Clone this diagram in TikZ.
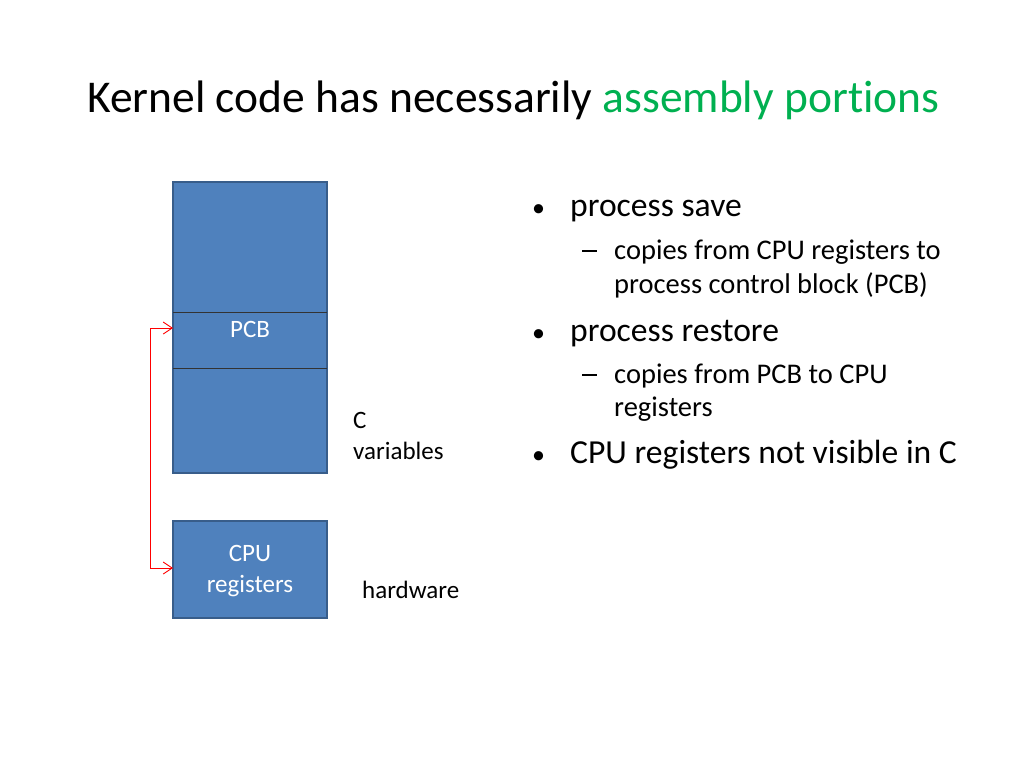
\documentclass[tikz,border=0pt]{standalone}
\usepackage{fontspec}
\setmainfont{Carlito}[Ligatures={NoCommon}]
\usetikzlibrary{positioning,arrows.meta}
\definecolor{boxblue}{HTML}{4F81BD}
\definecolor{boxedge}{HTML}{385D8A}
\definecolor{titlegreen}{HTML}{00B050}

\begin{document}
\begin{tikzpicture}[x=1pt,y=-1pt,
    blk/.style={draw=boxedge,fill=boxblue,line width=1.5pt,inner sep=0pt},
    lbl/.style={anchor=base west,inner sep=0pt,font=\fontsize{25}{31}\selectfont},
    lvlone/.style={anchor=base west,inner sep=0pt,font=\fontsize{33.6}{40}\selectfont},
    lvltwo/.style={anchor=base west,inner sep=0pt,font=\fontsize{28.5}{34}\selectfont},
    dot/.style={anchor=base west,inner sep=0pt,font=\fontsize{26}{30}\selectfont},
    link/.style={red,line width=0.9pt,<->,>={Straight Barb[length=9pt,width=12pt]}}]
  \useasboundingbox (0,0) rectangle (1024,768);
  % title
  \node[anchor=base west,inner sep=0pt,font=\fontsize{45.5}{54}\selectfont] (title) at (87,112)
    {Kernel code has necessarily \textcolor{titlegreen}{assembly portions}};
  % memory and registers
  \node[blk,minimum width=154pt,minimum height=291pt] (stack) at (250,327.5) {};
  \coordinate (P) at (173,312);
  \coordinate (PB) at (327,312);
  \coordinate (Q) at (173,368);
  \coordinate (QB) at (327,368);
  \draw[line width=1pt,black!80] (P)--(PB);
  \draw[line width=1pt,black!80] (Q)--(QB);
  \node[font=\fontsize{25}{30}\selectfont,text=white] (pcb) at (250,329) {PCB};
  \node[blk,minimum width=154pt,minimum height=97pt] (regs) at (250,569.5) {};
  \node[font=\fontsize{25}{31}\selectfont,text=white,align=center] (regtxt) at (250,571) {CPU\\registers};
  \node[lbl] (cvar) at (353,428) {C};
  \node[lbl] (cvar2) at (353,459) {variables};
  \node[lbl] (hw) at (362,598) {hardware};
  % save / restore
  \coordinate (A) at (173,328);
  \coordinate (B) at (173,568);
  \draw[link] (A) -- ++(-23,0) |- (B);
  % bullets
  \begin{scope}[xshift=532pt]
    \node[dot] (b1) at (0,216) {\textbullet};
    \node[lvlone] at (38,216) {process save};
    \node[lvltwo] (d1) at (50,259) {\rule[7pt]{15pt}{1.6pt}};
    \node[lvltwo] at (82,259) {copies from CPU registers to};
    \node[lvltwo] at (82,293) {process control block (PCB)};
    \node[dot] (b2) at (0,341) {\textbullet};
    \node[lvlone] at (38,341) {process restore};
    \node[lvltwo] (d2) at (50,383) {\rule[7pt]{15pt}{1.6pt}};
    \node[lvltwo] at (82,383) {copies from PCB to CPU};
    \node[lvltwo] at (82,416) {registers};
    \node[dot] (b3) at (0,463) {\textbullet};
    \node[lvlone] at (38,463) {CPU registers not visible in C};
  \end{scope}
\end{tikzpicture}
\end{document}
